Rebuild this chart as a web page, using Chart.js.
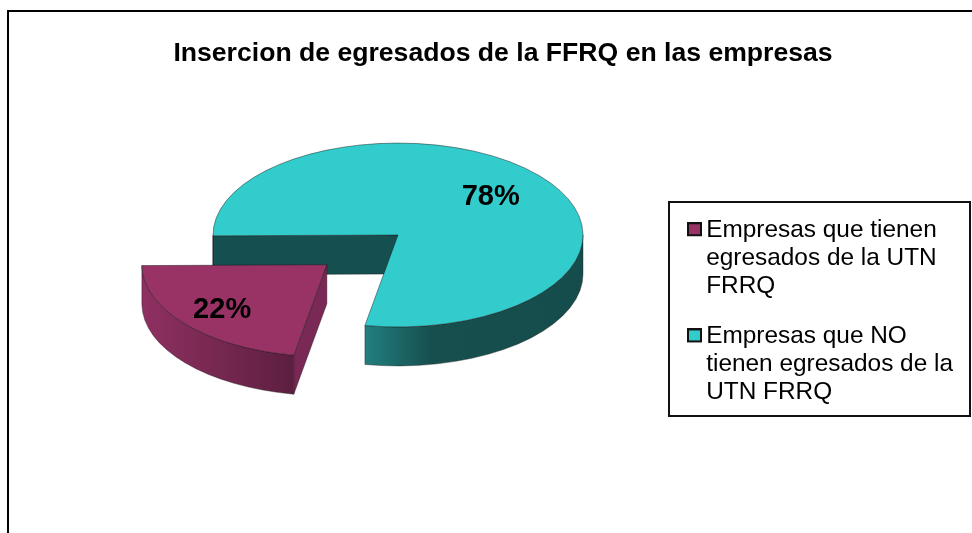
<!DOCTYPE html>
<html>
<head>
<meta charset="utf-8">
<style>html,body{margin:0;padding:0;background:#fff}canvas{display:block}</style>
<script src="https://cdn.jsdelivr.net/npm/chart.js@4/dist/chart.umd.min.js"></script>
</head>
<body>
<canvas id="c" width="972" height="533"></canvas>
<script>
const titleText = 'Insercion de egresados de la FFRQ en las empresas';
const categories = [
  ['Empresas que tienen', 'egresados de la UTN', 'FRRQ'],
  ['Empresas que NO', 'tienen egresados de la', 'UTN FRRQ']
];
const values = [22, 78];
const topColors = ['#993366', '#33CCCC'];
const edgeColors = ['#7a2855', '#154f4f'];
const wallStops = [
  [[0, '#8f3062'], [0.5, '#762850'], [1, '#5c1f40']],
  [[0, '#217f7f'], [0.3, '#174f4f'], [1, '#154c4c']]
];
const explodes = [93, 0];
const labelRadii = [0.74, 0.655];

const SQUASH = 0.497, DEPTH = 39, CX = 398, CY = 235, R = 185;

function markerImage(color) {
  const c = document.createElement('canvas');
  c.width = 20; c.height = 16;
  const g = c.getContext('2d');
  g.fillStyle = color; g.fillRect(6, 1, 13, 12);
  g.strokeStyle = '#111'; g.lineWidth = 2; g.strokeRect(6, 1, 13, 12);
  return c;
}

function sliceCentre(arc, i) {
  const mid = (arc.startAngle + arc.endAngle) / 2;
  return { x: arc.x + Math.cos(mid) * explodes[i], y: arc.y + Math.sin(mid) * explodes[i] * SQUASH, mid };
}

function drawWalls(ctx, arc, i) {
  const c = sliceCentre(arc, i), r = arc.outerRadius, ry = r * SQUASH;
  ctx.lineWidth = 0.7; ctx.strokeStyle = 'rgba(20,20,20,.55)';
  // radial faces: only those turned toward the viewer
  const faces = [];
  if (Math.cos(arc.startAngle) < 0) faces.push(arc.startAngle);
  if (Math.cos(arc.endAngle) > 0) faces.push(arc.endAngle);
  faces.forEach(a => {
    const ex = c.x + Math.cos(a) * r, ey = c.y + Math.sin(a) * ry;
    ctx.beginPath();
    ctx.moveTo(c.x, c.y); ctx.lineTo(ex, ey); ctx.lineTo(ex, ey + DEPTH); ctx.lineTo(c.x, c.y + DEPTH);
    ctx.closePath();
    ctx.fillStyle = edgeColors[i]; ctx.fill(); ctx.stroke();
  });
  // curved outer wall (only the part facing the viewer)
  [0, 2 * Math.PI].forEach(base => {
    const a = Math.max(arc.startAngle, base), b = Math.min(arc.endAngle, base + Math.PI);
    if (b <= a) return;
    const x1 = c.x + Math.cos(a) * r, x2 = c.x + Math.cos(b) * r;
    const g = ctx.createLinearGradient(Math.min(x1, x2), 0, Math.max(x1, x2), 0);
    wallStops[i].forEach(s => g.addColorStop(s[0], s[1]));
    ctx.beginPath();
    ctx.ellipse(c.x, c.y, r, ry, 0, a, b);
    ctx.ellipse(c.x, c.y + DEPTH, r, ry, 0, b, a, true);
    ctx.closePath();
    ctx.fillStyle = g; ctx.fill(); ctx.stroke();
  });
}

const pie3d = {
  id: 'pie3d',
  beforeDraw(chart) {
    const ctx = chart.ctx;
    ctx.save();
    ctx.fillStyle = '#fff'; ctx.fillRect(0, 0, chart.width, chart.height);
    ctx.strokeStyle = '#000'; ctx.lineWidth = 2;
    ctx.beginPath(); ctx.moveTo(8, chart.height); ctx.lineTo(8, 11); ctx.lineTo(chart.width, 11); ctx.stroke();
    ctx.strokeStyle = '#111';
    ctx.strokeRect(669, 202, 301, 214);
    ctx.restore();
  },
  afterLayout(chart) {
    chart.chartArea = { left: CX - R, right: CX + R, top: CY - R, bottom: CY + R, width: 2 * R, height: 2 * R };
    const l = chart.legend;
    l.left = 668; l.right = 971; l.top = 196; l.bottom = 520; l.width = 303; l.height = 324;
    const t = chart.titleBlock;
    t.left = 0; t.right = 1006; t.width = 1006; t.top = 38; t.bottom = 70; t.height = 32;
  },
  beforeDatasetDraw(chart, args) {
    const ctx = chart.ctx, arcs = args.meta.data;
    for (let i = arcs.length - 1; i >= 0; i--) {
      const arc = arcs[i], c = sliceCentre(arc, i);
      ctx.save();
      drawWalls(ctx, arc, i);
      ctx.translate(c.x, c.y);
      ctx.scale(1, SQUASH);
      ctx.translate(-arc.x, -arc.y);
      arc.draw(ctx);
      ctx.restore();
    }
    return false;
  },
  afterDatasetsDraw(chart) {
    const ctx = chart.ctx, arcs = chart.getDatasetMeta(0).data;
    ctx.save();
    ctx.font = 'bold 29px "Liberation Sans", Arial, sans-serif';
    ctx.fillStyle = '#000'; ctx.textAlign = 'center'; ctx.textBaseline = 'middle';
    arcs.forEach((arc, i) => {
      const c = sliceCentre(arc, i), lr = arc.outerRadius * labelRadii[i];
      ctx.fillText(values[i] + '%', c.x + Math.cos(c.mid) * lr, c.y + Math.sin(c.mid) * lr * SQUASH + 1);
    });
    ctx.restore();
  }
};

new Chart(document.getElementById('c'), {
  type: 'pie',
  data: {
    labels: categories,
    datasets: [{
      data: values,
      backgroundColor: topColors,
      borderColor: 'rgba(20,20,20,.6)',
      borderWidth: 1,
      clip: false
    }]
  },
  options: {
    responsive: false,
    animation: false,
    rotation: 190.3,
    radius: R,
    plugins: {
      tooltip: { enabled: false },
      title: {
        display: true, text: titleText, color: '#000',
        padding: 0,
        font: { family: '"Liberation Sans", Arial, sans-serif', size: 26.6, weight: 'bold', lineHeight: 1.2 }
      },
      legend: {
        display: true, position: 'right', align: 'start',
        labels: {
          color: '#000', padding: 22, usePointStyle: true, pointStyleWidth: 4,
          font: { family: '"Liberation Sans", Arial, sans-serif', size: 24.4, lineHeight: 1.15 },
          generateLabels(chart) {
            const base = Chart.overrides.pie.plugins.legend.labels.generateLabels(chart);
            return base.map((it, i) => Object.assign(it, { pointStyle: markerImage(topColors[i]) }));
          }
        }
      }
    }
  },
  plugins: [pie3d]
});
</script>
</body>
</html>
